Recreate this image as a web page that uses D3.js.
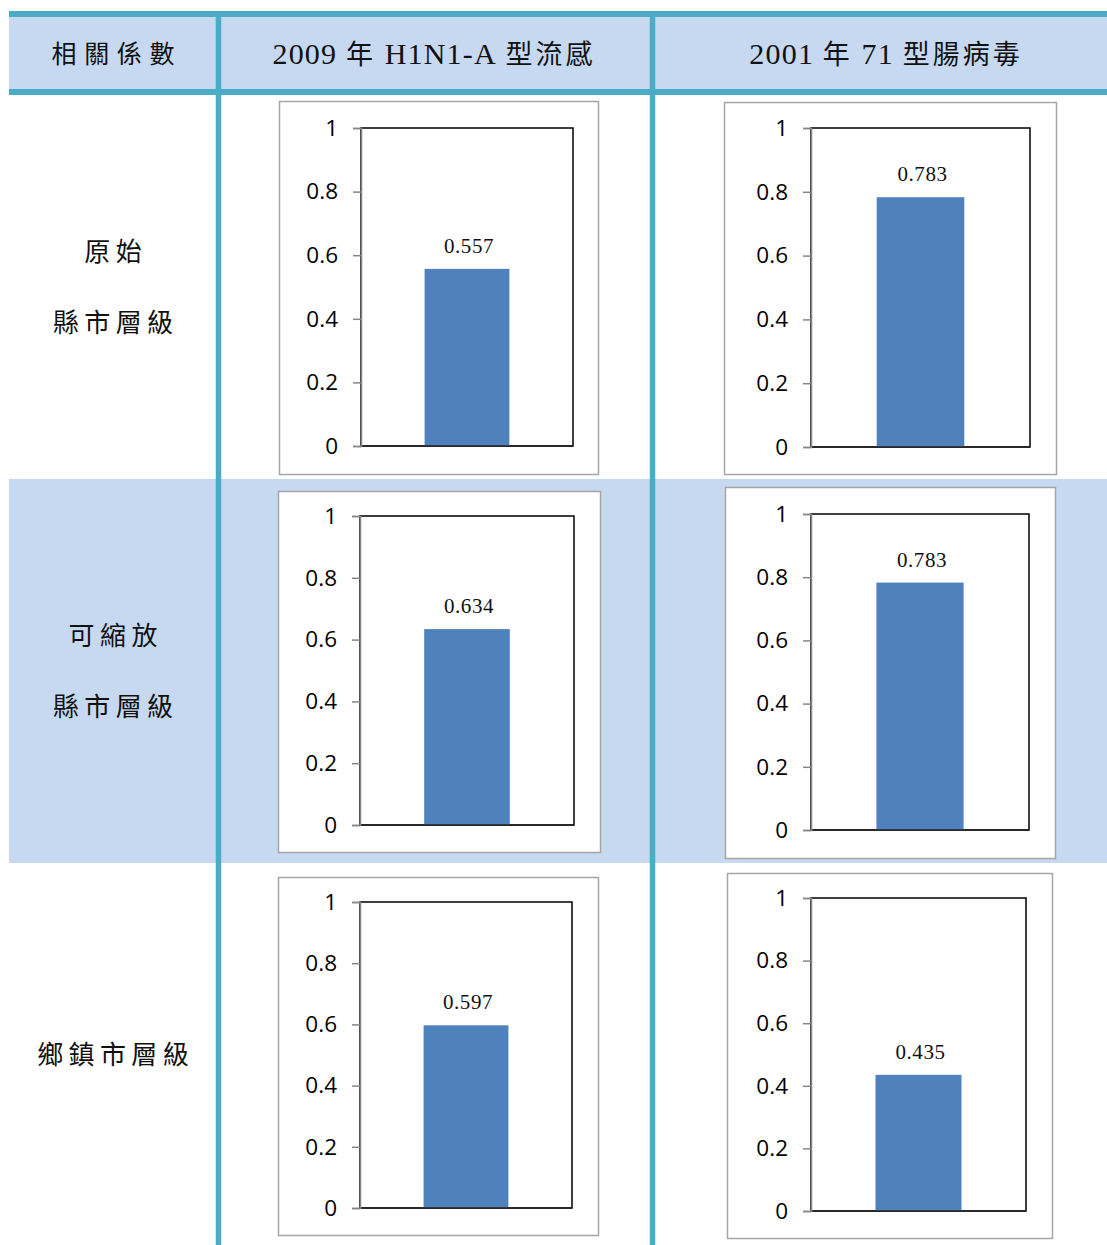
<!DOCTYPE html>
<html><head><meta charset="utf-8">
<script src="https://cdn.jsdelivr.net/npm/d3@7"></script>
<style>body{margin:0;background:#fff}svg{display:block}</style>
</head><body>
<svg id="chart" width="1107" height="1245"></svg>
<script>
// ---- data ----
const cornerLabel = "相關係數";
const colHeaders = ["2009 年 H1N1-A 型流感", "2001 年 71 型腸病毒"];
const rowLabels = [["原始", "縣市層級"], ["可縮放", "縣市層級"], ["鄉鎮市層級"]];
const h1n1Values = [0.557, 0.634, 0.597];
const ev71Values = [0.783, 0.783, 0.435];
const yTicks = [0, 0.2, 0.4, 0.6, 0.8, 1];
const yTickLabels = ["0", "0.2", "0.4", "0.6", "0.8", "1"];
const valueLabels = [["0.557", "0.634", "0.597"], ["0.783", "0.783", "0.435"]];

// ---- layout ----
const W = 1107, H = 1245;
const teal = "#4BACC6", light = "#C6D9F1";
const tableLeft = 9;
const headerTop = 11, headerBottom = 95, borderW = 6;
const vLines = [218.5, 652.5];
const rowBands = [[95, 479], [479, 863], [863, 1245]];
const colCenters = [113, 434, 886];
const frames = [
  [[279, 101, 598, 474], [724, 102, 1056, 474]],
  [[278, 491, 600, 852], [725, 487, 1055, 858]],
  [[278, 877, 598, 1235], [727, 873, 1052, 1238]]
];
const plots = [
  [[361, 128, 573, 446], [811, 128, 1030, 447]],
  [[360, 516, 574, 825], [811, 514, 1029, 830]],
  [[360, 902, 572, 1208], [811, 898, 1026, 1211]]
];

const svg = d3.select("#chart");

svg.append("rect").attr("x", tableLeft).attr("y", rowBands[1][0])
  .attr("width", W - tableLeft).attr("height", rowBands[1][1] - rowBands[1][0]).attr("fill", light);
svg.append("rect").attr("x", tableLeft).attr("y", headerTop)
  .attr("width", W - tableLeft).attr("height", headerBottom - headerTop).attr("fill", light);
svg.append("rect").attr("x", tableLeft).attr("y", headerTop)
  .attr("width", W - tableLeft).attr("height", borderW).attr("fill", teal);
svg.append("rect").attr("x", tableLeft).attr("y", headerBottom - borderW)
  .attr("width", W - tableLeft).attr("height", borderW).attr("fill", teal);
vLines.forEach(x => svg.append("rect").attr("x", x - 2.75).attr("y", headerTop)
  .attr("width", 5.5).attr("height", H - headerTop).attr("fill", teal));

const cjkFont = "'Noto Sans CJK TC',serif";
const serifFont = "'Liberation Serif','Noto Sans CJK TC',serif";

// corner label
svg.append("text").attr("x", colCenters[0]).attr("y", 63)
  .attr("text-anchor", "middle").attr("font-family", cjkFont)
  .attr("font-size", 25).attr("fill", "#111")
  .attr("textLength", 123).attr("lengthAdjust", "spacing").text(cornerLabel);

// column headers: latin runs serif, CJK runs sans
colHeaders.forEach((t, i) => {
  const txt = svg.append("text").attr("x", colCenters[i + 1]).attr("y", 64)
    .attr("text-anchor", "middle").attr("fill", "#111").attr("font-size", 30)
    .attr("font-family", serifFont).attr("letter-spacing", 1.2);
  const runs = t.match(/[\u3400-\u9fff]+|[^\u3400-\u9fff]+/g);
  runs.forEach(run => {
    const cjk = /[\u3400-\u9fff]/.test(run);
    txt.append("tspan").attr("font-family", cjk ? cjkFont : serifFont)
      .attr("font-size", cjk ? 27 : 30)
      .attr("letter-spacing", cjk ? 3 : 1.2)
      .text(run.replace(/ /g, "\u00a0"));
  });
});

// row labels
const rowLabelY = [[261, 332], [645, 716], [1064]];
rowLabels.forEach((lines, r) => {
  lines.forEach((t, k) => {
    svg.append("text").attr("x", colCenters[0]).attr("y", rowLabelY[r][k])
      .attr("text-anchor", "middle").attr("font-family", cjkFont)
      .attr("font-size", 26).attr("fill", "#111")
      .attr("textLength", t.length * 31.3 - 5).attr("lengthAdjust", "spacing")
      .text(t);
  });
});

// charts
const seriesValues = [h1n1Values, ev71Values];
seriesValues.forEach((vals, c) => {
  vals.forEach((v, r) => {
    const f = frames[r][c], p = plots[r][c];
    svg.append("rect").attr("x", f[0] + 0.5).attr("y", f[1] + 0.5)
      .attr("width", f[2] - f[0]).attr("height", f[3] - f[1])
      .attr("fill", "#fff").attr("stroke", "#A6A6A6").attr("stroke-width", 1.5);
    const g = svg.append("g");
    const y = d3.scaleLinear().domain([0, 1]).range([p[3], p[1]]);
    const x = d3.scaleBand().domain([colHeaders[c]]).range([p[0], p[2]])
      .paddingInner(0.6).paddingOuter(0.3);
    g.append("rect").attr("x", p[0]).attr("y", p[1])
      .attr("width", p[2] - p[0]).attr("height", p[3] - p[1])
      .attr("fill", "#fff").attr("stroke", "#000").attr("stroke-width", 1.5);
    g.append("rect").attr("x", x(colHeaders[c])).attr("width", x.bandwidth())
      .attr("y", y(v)).attr("height", y(0) - y(v)).attr("fill", "#4F81BD");
    g.append("line").attr("x1", p[0]).attr("x2", p[2]).attr("y1", p[3]).attr("y2", p[3])
      .attr("stroke", "#222").attr("stroke-width", 1.5);
    const ax = g.append("g").attr("transform", `translate(${p[0]},0)`)
      .call(d3.axisLeft(y).tickValues(yTicks).tickSize(8).tickPadding(15)
        .tickFormat((d, i) => yTickLabels[i]));
    ax.select(".domain").attr("stroke", "#868686").attr("stroke-width", 1.5);
    ax.selectAll(".tick line").attr("stroke", "#868686").attr("stroke-width", 1.5);
    ax.selectAll(".tick text").attr("font-family", "'Open Sans','Liberation Sans',sans-serif")
      .attr("font-size", 22.5).attr("fill", "#000");
    g.append("text").attr("x", x(colHeaders[c]) + x.bandwidth() / 2 + 2).attr("y", y(v) - 16)
      .attr("text-anchor", "middle").attr("font-family", "'Liberation Serif',serif")
      .attr("font-size", 21).attr("letter-spacing", 0.6).attr("fill", "#111").text(valueLabels[c][r]);
  });
});
</script>
</body></html>
